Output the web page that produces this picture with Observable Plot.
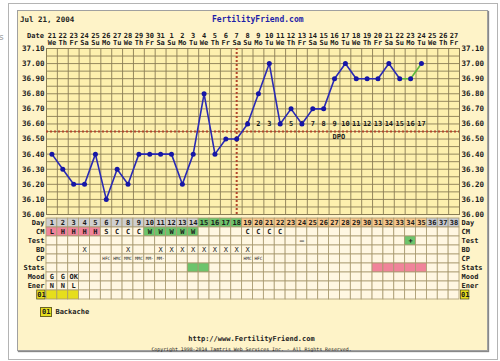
<!DOCTYPE html>
<html><head><meta charset="utf-8">
<script src="https://cdn.jsdelivr.net/npm/d3@7"></script>
<script src="https://cdn.jsdelivr.net/npm/@observablehq/plot@0.6"></script>
<style>
body{margin:0;background:#fff;}
#wrap{position:relative;width:500px;height:361px;overflow:hidden;font-family:"DejaVu Sans Mono",monospace;font-weight:bold;color:#222;}
#outer{position:absolute;left:8px;top:3px;width:490px;height:357px;border:1px solid #b4b4b4;box-sizing:border-box;background:#fff;}
#panel{position:absolute;left:17px;top:10px;width:471px;height:341px;background:#fef3c8;border:1px solid #a0a0a0;box-sizing:border-box;box-shadow:1px 1px 1px #888;}
#stray{position:absolute;left:-1px;top:32px;font:9px "DejaVu Sans",sans-serif;color:#9a9a9a;}
.layer{position:absolute;left:0;top:0;}
.t{position:absolute;white-space:nowrap;line-height:10px;}
#title{left:20px;top:15px;font-size:7.5px;}
#site{left:212px;top:15px;font-size:8px;color:#1e1ea8;}
#datelbl{left:27px;top:31px;font-size:7px;}
#legend{left:40px;top:307px;font-size:7px;}
#legend .sym{display:inline-block;background:#e6de1c;border:1px solid #6a6420;padding:0 1px;line-height:8px;margin-right:3px;}
#url{left:0;width:503px;text-align:center;top:334px;font-size:7px;}
#copy{left:0;width:503px;text-align:center;top:344px;font-size:4.9px;font-weight:normal;}
</style></head>
<body>
<div id="wrap">
  <div id="stray">s</div>
  <div id="outer"></div>
  <div id="panel"></div>
  <div id="title" class="t">Jul 21, 2004</div>
  <div id="site" class="t">FertilityFriend.com</div>
  <div id="datelbl" class="t">Date</div>
  <div id="chart1" class="layer"></div>
  <div id="chart2" class="layer"></div>
  <div id="legend" class="t"><span class="sym">01</span>Backache</div>
  <div id="url" class="t">http://www.FertilityFriend.com</div>
  <div id="copy" class="t">Copyright 1998-2014 Tamtris Web Services Inc. - All Rights Reserved.</div>
</div>
<script>
// ---------- data ----------
const dateLabels = ["21","22","23","24","25","26","27","28","29","30","31","1","2","3","4","5","6","7","8","9","10","11","12","13","14","15","16","17","18","19","20","21","22","23","24","25","26","27"];
const weekdays = ["We","Th","Fr","Sa","Su","Mo","Tu","We","Th","Fr","Sa","Su","Mo","Tu","We","Th","Fr","Sa","Su","Mo","Tu","We","Th","Fr","Sa","Su","Mo","Tu","We","Th","Fr","Sa","Su","Mo","Tu","We","Th","Fr"];
const temps = [36.40,36.30,36.20,36.20,36.40,36.10,36.30,36.20,36.40,36.40,
               36.40,36.40,36.20,36.40,36.80,36.40,36.50,36.50,36.60,36.80,
               37.00,36.60,36.70,36.60,36.70,36.70,36.90,37.00,36.90,36.90,
               36.90,37.00,36.90,36.90,37.00];
const yTicks = [36.00,36.10,36.20,36.30,36.40,36.50,36.60,36.70,36.80,36.90,37.00,37.10];
const coverline = 36.55;
const ovulationDay = 18;
const greenFromDay = 33;
const fertileDays = [15,16,17,18];
const cycleDays = 38;

const rows = ["Day","CM","Test","BD","CP","Stats","Mood","Ener","01"];
const cmDays = [1,2,3,4,5,6,7,8,9,10,11,12,13,14,19,20,21,22];
const cmText = ["L","H","H","H","H","S","C","C","C","W","W","W","W","W","C","C","C","C"];
const testDays = [24,34];
const testText = ["–","+"];
const bdDays = [4,8,11,12,13,14,15,16,17,18,19];
const cpDays = [6,7,8,9,10,11,19,20];
const cpText = ["HFC","HMC","MMC","MMC","MM-","MM-","HMC","HFC"];
const statsGreenDays = [14,15];
const statsPinkDays = [31,32,33,34,35];
const moodDays = [1,2,3];
const moodText = ["G","G","OK"];
const enerDays = [1,2,3];
const enerText = ["N","N","L"];
const symptomDays = [1,2,3];

// ---------- derived ----------
const FONT = "DejaVu Sans Mono";
const days = d3.range(1, cycleDays + 1);
const lastTempDay = temps.length;
const tempData = temps.map((t, i) => ({day: i + 1, temp: t}));
const C = {
  plotBg:"#fdf0ae", grid:"#8a7d55", line:"#2a2ab4", dot:"#1616a6", green:"#5cb83c",
  dotted:"#b3472c", cell:"#fff7e2", cellStroke:"#a8996f",
  gray:"#cfcfcf", future:"#c6cad2", fertile:"#6cc46c", luteal:"#f6c78c",
  pink:"#f0849a", yellow:"#e6de1c"
};
const txt = (o) => Object.assign({fontFamily: FONT, fontWeight: "bold", fontSize: 7, fill: "#1a1a1a"}, o);

// ---------- temperature chart ----------
const hLines = d3.range(0, Math.round((37.10 - 36.00) / 0.05) + 1).map(i => +(36 + i * 0.05).toFixed(2));
const vLines = d3.range(0, cycleDays + 1).map(i => i + 0.5);

const plot1 = Plot.plot({
  width: 500, height: 361,
  marginLeft: 46, marginRight: 41, marginTop: 48, marginBottom: 147,
  style: {background: "transparent", overflow: "visible"},
  x: {domain: [0.5, cycleDays + 0.5], axis: null},
  y: {domain: [36.00, 37.10], axis: null},
  marks: [
    Plot.frame({fill: C.plotBg, stroke: C.grid}),
    Plot.ruleY(hLines, {stroke: C.grid, strokeWidth: 0.9}),
    Plot.ruleX(vLines, {stroke: C.grid, strokeWidth: 0.9}),
    Plot.ruleY([coverline], {stroke: C.dotted, strokeWidth: 2, strokeDasharray: "2,2"}),
    Plot.ruleX([ovulationDay], {stroke: C.dotted, strokeWidth: 2, strokeDasharray: "2,2"}),
    // axes
    Plot.text(yTicks, txt({y: d => d, frameAnchor: "left", textAnchor: "end", dx: -2, fontSize: 7.5, text: d => d.toFixed(2)})),
    Plot.text(yTicks, txt({y: d => d, frameAnchor: "right", textAnchor: "start", dx: 2, fontSize: 7.5, text: d => d.toFixed(2)})),
    Plot.text(days, txt({x: d => d, frameAnchor: "top", dy: -15, text: d => dateLabels[d - 1]})),
    Plot.text(days, txt({x: d => d, frameAnchor: "top", dy: -8, text: d => weekdays[d - 1]})),
    // DPO labels
    Plot.text(tempData.filter(d => d.day > ovulationDay), txt({x: "day", y: () => coverline + 0.05, text: d => String(d.day - ovulationDay)})),
    Plot.text(["DPO"], txt({x: () => ovulationDay + 9, y: () => coverline - 0.035, textAnchor: "start", dx: -2, text: d => d})),
    // temperatures
    Plot.line(tempData.filter(d => d.day <= greenFromDay), {x: "day", y: "temp", stroke: C.line, strokeWidth: 1.6}),
    Plot.line(tempData.filter(d => d.day >= greenFromDay), {x: "day", y: "temp", stroke: C.green, strokeWidth: 1.6}),
    Plot.dot(tempData, {x: "day", y: "temp", r: 2.5, fill: C.dot, stroke: "none"})
  ]
});
document.getElementById("chart1").appendChild(plot1);

// ---------- data table ----------
const cmMap = new Map(cmDays.map((d, i) => [d, cmText[i]]));
const testMap = new Map(testDays.map((d, i) => [d, testText[i]]));
function cellFill(row, day) {
  if (row === "Day") {
    if (fertileDays.includes(day)) return C.fertile;
    if (day > lastTempDay) return C.future;
    if (day > ovulationDay) return C.luteal;
    return C.gray;
  }
  if (row === "CM") {
    const t = cmMap.get(day);
    if (t === "L" || t === "H") return C.pink;
    if (t === "W") return C.fertile;
  }
  if (row === "Test" && testMap.get(day) === "+") return C.fertile;
  if (row === "Stats") {
    if (statsGreenDays.includes(day)) return C.fertile;
    if (statsPinkDays.includes(day)) return C.pink;
  }
  if (row === "01" && symptomDays.includes(day)) return C.yellow;
  return C.cell;
}
const cells = rows.flatMap(row => days.map(day => ({row, day, fill: cellFill(row, day)})));
const rowText = (row, ds, ts, extra = {}) => Plot.text(ds.map((d, i) => ({day: d, t: ts[i]})),
  txt(Object.assign({x: "day", y: () => row, text: "t"}, extra)));

const plot2 = Plot.plot({
  width: 500, height: 361,
  marginLeft: 46, marginRight: 41, marginTop: 217, marginBottom: 61,
  style: {background: "transparent", overflow: "visible"},
  x: {domain: [0.5, cycleDays + 0.5], axis: null},
  y: {domain: rows, axis: null, padding: 0},
  marks: [
    Plot.barX(cells, {x1: d => d.day - 0.5, x2: d => d.day + 0.5, y: "row", fill: "fill", stroke: C.cellStroke, strokeWidth: 0.8}),
    Plot.text(days, txt({x: d => d, y: () => "Day", text: d => String(d)})),
    rowText("CM", cmDays, cmText),
    rowText("Test", testDays, testText),
    rowText("BD", bdDays, bdDays.map(() => "X"), {fontWeight: "normal"}),
    rowText("CP", cpDays, cpText, {fontSize: 4.4, fontWeight: "normal"}),
    rowText("Mood", moodDays, moodText),
    rowText("Ener", enerDays, enerText),
    // row labels
    Plot.text(rows.filter(r => r !== "01"), txt({y: d => d, frameAnchor: "left", textAnchor: "end", dx: -2, text: d => d})),
    Plot.text(rows.filter(r => r !== "01"), txt({y: d => d, frameAnchor: "right", textAnchor: "start", dx: 2, text: d => d})),
    Plot.barX([0, cycleDays + 1], {x1: d => d - 0.45, x2: d => d + 0.5, y: () => "01", fill: C.yellow, stroke: "#5e5820", strokeWidth: 0.8, insetLeft: 1, insetRight: 1}),
    Plot.text([0, cycleDays + 1], txt({x: d => d + 0.03, y: () => "01", text: () => "01"}))
  ]
});
document.getElementById("chart2").appendChild(plot2);
</script>
</body></html>
